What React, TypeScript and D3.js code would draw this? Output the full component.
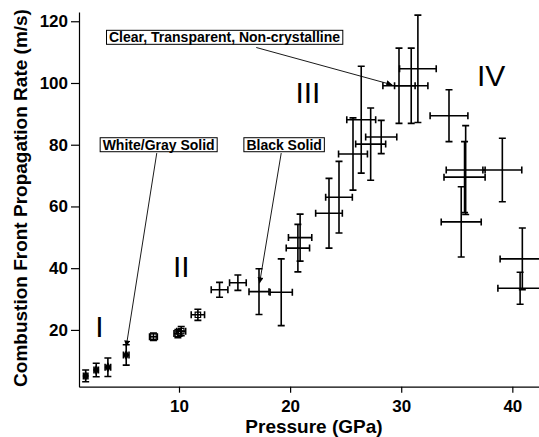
import { useEffect, useRef } from "react";
import * as d3 from "d3";

// each row: [pressure (GPa), ± pressure, propagation rate (m/s), ± rate]
const regionI = [
  [1.6, 0.2, 5.1, 1.9],
  [2.55, 0.2, 7.0, 2.2],
  [3.6, 0.25, 7.9, 3.0],
  [5.25, 0.25, 11.9, 3.3],
];
const regionII = [
  [7.7, 0.35, 17.8, 1.2],
  [9.9, 0.35, 18.8, 1.3],
  [10.2, 0.4, 19.6, 1.5],
  [11.7, 0.6, 24.9, 1.8],
];
const regionIIIandIV = [
  [13.65, 0.75, 33.0, 2.4],
  [15.3, 0.75, 35.3, 2.5],
  [17.2, 0.9, 32.4, 7.4],
  [19.2, 1.0, 32.2, 10.8],
  [20.9, 1.05, 49.9, 7.6],
  [20.7, 1.05, 46.5, 7.7],
  [23.5, 1.2, 57.8, 11.3],
  [24.4, 1.2, 63.0, 11.6],
  [25.66, 1.3, 77.0, 11.7],
  [26.4, 1.3, 88.1, 17.3],
  [27.25, 1.35, 80.2, 11.7],
  [28.2, 1.4, 82.5, 5.4],
  [29.8, 1.45, 99.1, 12.2],
  [30.9, 1.5, 99.1, 12.2],
  [31.5, 1.65, 104.6, 17.4],
  [34.3, 1.7, 89.4, 8.4],
  [35.8, 1.75, 71.8, 14.4],
  [35.7, 1.85, 69.5, 11.5],
  [35.4, 1.8, 55.0, 11.4],
  [39.1, 1.75, 71.8, 10.3],
  [40.9, 2.0, 43.0, 10.0],
  [40.7, 2.0, 33.5, 5.2],
];

const xTicks = [10, 20, 30, 40];
const yTicks = [20, 40, 60, 80, 100, 120];

const regionNames = ["I", "II", "III", "IV"];
const regionNameX = [2.84, 10.2, 21.6, 38.1];
const regionNameY = [17.8, 37.1, 93.5, 98.9];

const calloutText = ["Clear, Transparent, Non-crystalline", "White/Gray Solid", "Black Solid"];
const calloutAt = [[14.1, 114.8], [8.17, 80.0], [19.46, 80.0]];
const calloutFrom = [[16.95, 111.5], [8.0, 77.3], [19.2, 77.3]];
const calloutTo = [[29.2, 99.4], [5.25, 14.6], [17.25, 35.1]];

const FONT = "'Liberation Sans', Arial, Helvetica, sans-serif";

const App = () => {
  const svgRef = useRef<SVGSVGElement>(null);

  useEffect(() => {
    const svg = d3.select(svgRef.current);
    svg.selectAll("*").remove();

    const x = d3.scaleLinear().domain([1, 42.4]).range([79, 539]);
    const y = d3.scaleLinear().domain([1.6, 123]).range([386.7, 12]);

    svg.append("defs").append("marker")
      .attr("id", "arrow")
      .attr("viewBox", "0 0 10 10")
      .attr("refX", 10).attr("refY", 5)
      .attr("markerWidth", 8).attr("markerHeight", 6)
      .attr("markerUnits", "userSpaceOnUse")
      .attr("orient", "auto")
      .append("path").attr("d", "M0,0L10,5L0,10z").attr("fill", "#000");

    // axes
    const xAxis = svg.append("g")
      .attr("transform", `translate(0,${y.range()[0]})`)
      .call(d3.axisBottom(x).tickValues(xTicks).tickSize(6).tickSizeOuter(0).tickPadding(7));
    const yAxis = svg.append("g")
      .attr("transform", `translate(${x.range()[0]},0)`)
      .call(d3.axisLeft(y).tickValues(yTicks).tickSize(8).tickSizeOuter(0).tickPadding(3));
    [xAxis, yAxis].forEach((g) => {
      g.selectAll("text").attr("font-family", FONT).attr("font-size", 17).attr("font-weight", "bold").attr("fill", "#000");
      g.select(".domain").attr("stroke", "#000").attr("stroke-width", 1.2);
      g.selectAll(".tick line").attr("stroke", "#000").attr("stroke-width", 1.2);
    });

    svg.append("text")
      .attr("x", 314).attr("y", 433)
      .attr("text-anchor", "middle")
      .attr("font-family", FONT).attr("font-size", 19).attr("font-weight", "bold")
      .text("Pressure (GPa)");
    svg.append("text")
      .attr("transform", "translate(27,198) rotate(-90)")
      .attr("text-anchor", "middle")
      .attr("font-family", FONT).attr("font-size", 19).attr("font-weight", "bold")
      .text("Combustion Front Propagation Rate (m/s)");

    // error bars
    const cap = 3.5;
    const barPath = ([p, pe, r, re]: number[]) => {
      const cx = x(p), cy = y(r);
      const x0 = x(p - pe), x1 = x(p + pe), y0 = y(r - re), y1 = y(r + re);
      const path = d3.path();
      path.moveTo(x0, cy); path.lineTo(x1, cy);
      path.moveTo(cx, y0); path.lineTo(cx, y1);
      path.moveTo(x0, cy - cap); path.lineTo(x0, cy + cap);
      path.moveTo(x1, cy - cap); path.lineTo(x1, cy + cap);
      path.moveTo(cx - cap, y0); path.lineTo(cx + cap, y0);
      path.moveTo(cx - cap, y1); path.lineTo(cx + cap, y1);
      return path.toString();
    };
    const allRows = [...regionI, ...regionII, ...regionIIIandIV];
    svg.append("g")
      .selectAll("path")
      .data(allRows)
      .join("path")
      .attr("d", barPath)
      .attr("fill", "none")
      .attr("stroke", "#000")
      .attr("stroke-width", 1.6);

    svg.append("g")
      .selectAll("path")
      .data(regionI)
      .join("path")
      .attr("transform", (d) => `translate(${x(d[0])},${y(d[2])})`)
      .attr("d", d3.symbol(d3.symbolDiamond).size(32)())
      .attr("fill", "#000");
    svg.append("g")
      .selectAll("path")
      .data(regionII)
      .join("path")
      .attr("transform", (d) => `translate(${x(d[0])},${y(d[2])})`)
      .attr("d", d3.symbol(d3.symbolSquare).size(30)())
      .attr("fill", "none")
      .attr("stroke", "#000")
      .attr("stroke-width", 1.2);

    // region numerals
    svg.append("g")
      .selectAll("text")
      .data(regionNames)
      .join("text")
      .attr("x", (d, i) => x(regionNameX[i]))
      .attr("y", (d, i) => y(regionNameY[i]))
      .attr("text-anchor", "middle")
      .attr("font-family", FONT).attr("font-size", 30)
      .text((d) => d);

    // callouts with arrows
    calloutText.forEach((label, i) => {
      svg.append("line")
        .attr("x1", x(calloutFrom[i][0])).attr("y1", y(calloutFrom[i][1]))
        .attr("x2", x(calloutTo[i][0])).attr("y2", y(calloutTo[i][1]))
        .attr("stroke", "#000").attr("stroke-width", 0.9)
        .attr("marker-end", "url(#arrow)");
      const g = svg.append("g");
      const cx = x(calloutAt[i][0]), cy = y(calloutAt[i][1]);
      const t = g.append("text")
        .attr("x", cx).attr("y", cy + 5)
        .attr("text-anchor", "middle")
        .attr("font-family", FONT).attr("font-size", 14).attr("font-weight", "bold")
        .text(label);
      const bb = (t.node() as SVGTextElement).getBBox();
      g.insert("rect", "text")
        .attr("x", bb.x - 2.5).attr("y", cy - 7)
        .attr("width", bb.width + 5).attr("height", 14)
        .attr("fill", "#fff").attr("stroke", "#000").attr("stroke-width", 1);
    });

    return () => {
      svg.selectAll("*").remove();
    };
  }, []);

  return (
    <svg
      ref={svgRef}
      width={539}
      height={437}
      style={{ position: "absolute", left: 0, top: 0, background: "#fff" }}
    />
  );
};

export default App;
